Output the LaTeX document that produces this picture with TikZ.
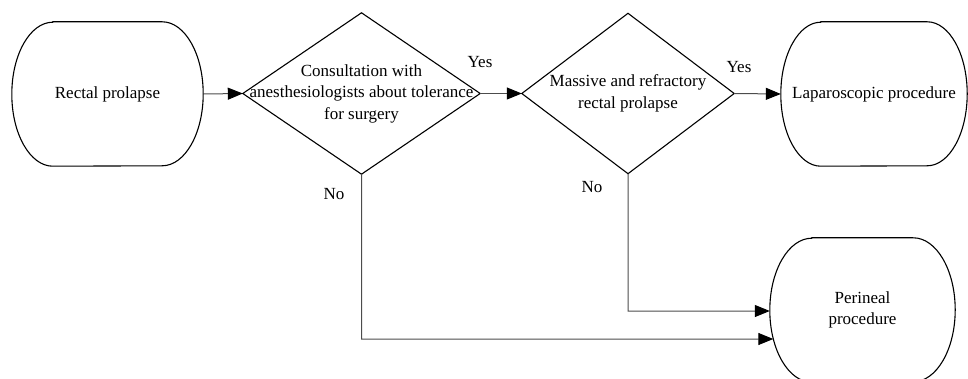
\documentclass[tikz,border=0pt]{standalone}
\usepackage{fontspec}
\setmainfont{Liberation Serif}
\usetikzlibrary{arrows.meta,intersections,calc}
\newcommand\termoutline[2]{% #1 node name, #2 x radius
  ($(#1.north west)+(#2,0)$) -- ($(#1.north east)+(-#2,0)$)
  arc[start angle=90,end angle=-90,x radius=#2,y radius=72]
  -- ($(#1.south west)+(#2,0)$)
  arc[start angle=270,end angle=90,x radius=#2,y radius=72] -- cycle}
\newcommand\diamondoutline[1]{(#1.north) -- (#1.east) -- (#1.south) -- (#1.west) -- cycle}
\begin{document}
\begin{tikzpicture}[x=1pt,y=1pt,
  txt/.style={font=\fontsize{17}{21.5}\selectfont},
  box/.style={txt,rectangle,draw=none,inner sep=0pt,align=center},
  outline/.style={draw=black,line width=1.1pt},
  conn/.style={draw=black!70,line width=1pt,-{Triangle[length=15pt,width=12pt,fill=black,color=black]}},
  lbl/.style={txt,inner sep=0pt}]
\useasboundingbox (0,0) rectangle (968,-379);
% nodes
\node[box,minimum width=191,minimum height=144] (rect) at (107.5,-94) {Rectal prolapse};
\node[box,minimum width=237,minimum height=161] (d1) at (361.5,-93.5) {Consultation with\\anesthesiologists about tolerance\\for surgery};
\node[box,minimum width=212,minimum height=160] (d2) at (628,-93.5) {Massive and refractory\\rectal prolapse};
\node[box,minimum width=186,minimum height=144] (lap) at (874,-94) {Laparoscopic procedure};
\node[box,minimum width=185,minimum height=144] (per) at (862.5,-310) {Perineal\\procedure};
% outlines
\draw[outline] \termoutline{rect}{41};
\draw[outline] \termoutline{lap}{40};
\draw[outline,name path=perOut] \termoutline{per}{42};
\draw[outline] \diamondoutline{d1};
\draw[outline] \diamondoutline{d2};
% connectors
\draw[conn] (rect.east) -- (d1.west);
\draw[conn] (d1.east) -- (d2.west);
\draw[conn] (d2.east) -- (lap.west);
\coordinate (c2) at (d2.south |- 0,-311);
\coordinate (c1) at (d1.south |- 0,-339);
\path[name path=h2] (c2) -- ++(450,0);
\path[name path=h1] (c1) -- ++(700,0);
\path[name intersections={of=perOut and h2,by={p2},sort by=h2}];
\path[name intersections={of=perOut and h1,by={p1},sort by=h1}];
\draw[conn] (d2.south) -- (c2) -- (p2);
\draw[conn] (d1.south) -- (c1) -- (p1);
% labels
\node[lbl] (y1) at (480,-62) {Yes};
\node[lbl] (y2) at (739,-67) {Yes};
\node[lbl] (n1) at (334,-194) {No};
\node[lbl] (n2) at (592,-187) {No};
\end{tikzpicture}
\end{document}
